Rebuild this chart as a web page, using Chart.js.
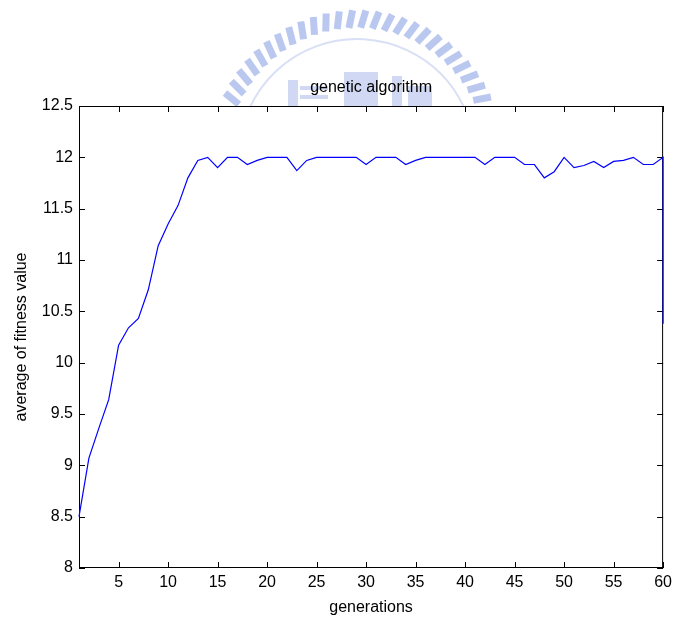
<!DOCTYPE html>
<html>
<head>
<meta charset="utf-8">
<script src="https://cdn.jsdelivr.net/npm/chart.js@4"></script>
<style>
  body { margin: 0; background: #fff; }
  canvas { display: block; }
</style>
</head>
<body>
<canvas id="ga_chart" width="677" height="621"></canvas>
<script>
// データ
const generations = [
  1, 2, 3, 4, 5, 6, 7, 8, 9, 10,
  11, 12, 13, 14, 15, 16, 17, 18, 19, 20,
  21, 22, 23, 24, 25, 26, 27, 28, 29, 30,
  31, 32, 33, 34, 35, 36, 37, 38, 39, 40,
  41, 42, 43, 44, 45, 46, 47, 48, 49, 50,
  51, 52, 53, 54, 55, 56, 57, 58, 59, 60, 60
];
const fitness = [
  8.5, 9.07, 9.36, 9.64, 10.17, 10.34, 10.43, 10.71, 11.14, 11.35,
  11.53, 11.8, 11.97, 12, 11.9, 12, 12, 11.93, 11.97, 12,
  12, 12, 11.87, 11.97, 12, 12, 12, 12, 12, 11.93,
  12, 12, 12, 11.93, 11.97, 12, 12, 12, 12, 12,
  12, 11.93, 12, 12, 12, 11.93, 11.93, 11.8, 11.86, 12,
  11.9, 11.92, 11.96, 11.9, 11.96, 11.97, 12, 11.93, 11.93, 12, 10.38
];
const xTicks = [5, 10, 15, 20, 25, 30, 35, 40, 45, 50, 55, 60];
const yTicks = [8, 8.5, 9, 9.5, 10, 10.5, 11, 11.5, 12, 12.5];

const FONT = "'Liberation Sans', Arial, Helvetica, sans-serif";

// 背景の透かし（ロゴっぽい弧）
const watermark = {
  id: "watermark",
  beforeDraw(chart) {
    const ctx = chart.ctx;
    ctx.save();
    ctx.fillStyle = "rgba(130,155,225,0.55)";
    const cx = 357, cy = 157, r = 147;
    for (let a = 205; a <= 335; a += 5.2) {
      const rad = a * Math.PI / 180;
      ctx.save();
      ctx.translate(cx + Math.cos(rad) * (r - 9), cy + Math.sin(rad) * (r - 9));
      ctx.rotate(rad + Math.PI / 2 + 0.25);
      ctx.fillRect(-3.5, -9, 7, 18);
      ctx.restore();
    }
    ctx.strokeStyle = "rgba(170,185,230,0.45)";
    ctx.lineWidth = 2;
    ctx.beginPath();
    ctx.arc(cx, cy, 118, 205 * Math.PI / 180, 335 * Math.PI / 180);
    ctx.stroke();
    ctx.fillStyle = "rgba(150,168,228,0.45)";
    ctx.fillRect(288, 80, 10, 26);
    ctx.fillRect(300, 86, 28, 4);
    ctx.fillRect(300, 95, 28, 4);
    ctx.fillRect(344, 72, 34, 34);
    ctx.fillRect(392, 76, 10, 30);
    ctx.fillRect(408, 86, 24, 20);
    ctx.restore();
  }
};

// 枠と内向きの目盛り（線の下に描く）
const matlabFrame = {
  id: "matlabFrame",
  beforeDatasetsDraw(chart) {
    const { ctx, chartArea: a, scales } = chart;
    ctx.save();
    ctx.strokeStyle = "#000";
    ctx.lineWidth = 1;
    ctx.strokeRect(a.left + 0.5, a.top + 0.5, a.right - a.left - 1, a.bottom - a.top - 1);
    ctx.beginPath();
    xTicks.forEach(v => {
      const px = Math.round(scales.x.getPixelForValue(v)) + 0.5;
      ctx.moveTo(px, a.bottom); ctx.lineTo(px, a.bottom - 6);
      ctx.moveTo(px, a.top); ctx.lineTo(px, a.top + 6);
    });
    yTicks.forEach(v => {
      const py = Math.round(scales.y.getPixelForValue(v)) + 0.5;
      ctx.moveTo(a.left, py); ctx.lineTo(a.left + 6, py);
      ctx.moveTo(a.right, py); ctx.lineTo(a.right - 6, py);
    });
    ctx.stroke();
    ctx.restore();
  },
  afterDraw(chart) {
    const { ctx, chartArea: a } = chart;
    ctx.save();
    ctx.fillStyle = "#000";
    ctx.font = "16px " + FONT;
    ctx.textAlign = "center";
    ctx.textBaseline = "middle";
    ctx.fillText("genetic algorithm", (a.left + a.right) / 2, 88);
    ctx.restore();
  }
};

let context = document.querySelector("#ga_chart").getContext("2d");
new Chart(context, {
  type: "line",
  data: {
    datasets: [
      {
        data: generations.map((g, i) => ({ x: g, y: fitness[i] })),
        borderColor: "#0000ff",
        borderWidth: 1.2,
        pointRadius: 0,
        tension: 0,
        fill: false,
        clip: 2,
      },
    ],
  },
  options: {
    responsive: false,
    animation: false,
    layout: {
      padding: { top: 106, right: 9, left: 0, bottom: 0 },
    },
    scales: {
      x: {
        type: "linear",
        min: 1,
        max: 60,
        afterBuildTicks: (scale) => {
          scale.ticks = xTicks.map(v => ({ value: v }));
        },
        afterFit: (scale) => { scale.height = 53; },
        grid: { display: false, drawTicks: false },
        border: { display: false },
        ticks: {
          color: "#000",
          padding: 5,
          maxRotation: 0,
          font: { family: FONT, size: 16 },
        },
        title: {
          display: true,
          text: "generations",
          color: "#000",
          padding: { top: 0, bottom: 4 },
          font: { family: FONT, size: 16 },
        },
      },
      y: {
        min: 8,
        max: 12.5,
        afterBuildTicks: (scale) => {
          scale.ticks = yTicks.map(v => ({ value: v }));
        },
        afterFit: (scale) => { scale.width = 79; },
        grid: { display: false, drawTicks: false },
        border: { display: false },
        ticks: {
          color: "#000",
          padding: 6,
          font: { family: FONT, size: 16 },
          callback: function (value) {
            return String(value);
          },
        },
        title: {
          display: true,
          text: "average of fitness value",
          color: "#000",
          padding: { top: 12, bottom: 0 },
          font: { family: FONT, size: 16 },
        },
      },
    },
    plugins: {
      legend: { display: false },
      tooltip: { enabled: false },
    },
  },
  plugins: [watermark, matlabFrame],
});
</script>
</body>
</html>
